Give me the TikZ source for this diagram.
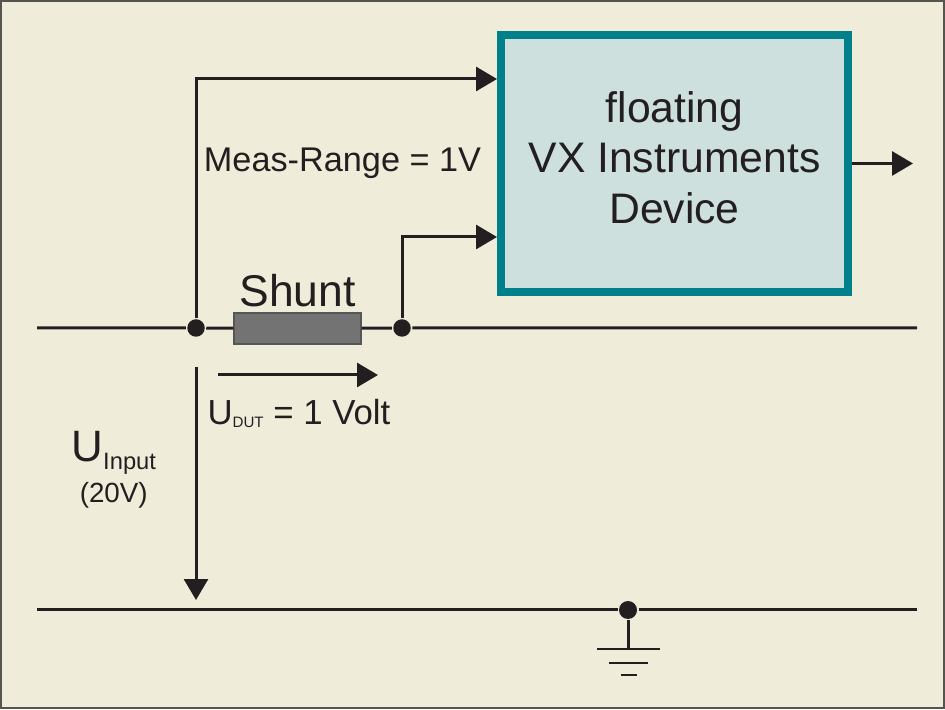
\documentclass[tikz,border=0pt]{standalone}
\usepackage{fontspec}
\setmainfont{Liberation Sans}
\usetikzlibrary{arrows.meta,positioning}

\definecolor{bgcream}{RGB}{239,237,218}
\definecolor{devfill}{RGB}{205,224,222}
\definecolor{devedge}{RGB}{0,128,138}
\definecolor{ink}{RGB}{35,31,32}
\definecolor{shuntgrey}{RGB}{115,115,115}
\definecolor{framegrey}{RGB}{85,85,80}

\begin{document}
\begin{tikzpicture}[x=0.02cm,y=0.02cm,>={Triangle[length=0.42cm,width=0.48cm]},line width=0.06cm,ink,node distance=0.1cm]
  \tikzstyle{dot}=[circle,fill=ink,draw=none,inner sep=0pt,minimum size=0.35cm]
  \tikzstyle{device}=[rectangle,draw=devedge,fill=devfill,line width=0.16cm,minimum width=6.94cm,minimum height=5.14cm,align=center,text=ink,text depth=0.24cm,font=\fontsize{24.3}{29}\selectfont]
  \tikzstyle{shunt}=[rectangle,draw=shuntgrey!75!black,fill=shuntgrey,line width=0.03cm,minimum width=2.54cm,minimum height=0.62cm,inner sep=0pt]
  \tikzstyle{lbl}=[inner sep=0pt,text=ink,font=\fontsize{19.5}{23}\selectfont]

  \useasboundingbox (0,0) rectangle (945,709);
  \fill[bgcream] (0,0) rectangle (945,709);
  \draw[framegrey,line width=0.04cm] (1,1) rectangle (944,708);

  \node[device] (dev) at (674.5,545.5) {floating\\VX Instruments\\Device};
  \node[dot] (j1) at (196,381) {};
  \node[dot] (j2) at (402,381) {};
  \node[shunt] (shunt) at (297.5,380.5) {};
  \node[lbl,font=\fontsize{25.3}{30}\selectfont] (shuntlbl) [above=0.08cm of shunt] {Shunt};
  \node[dot,minimum size=0.36cm] (gnd) at (628,99) {};

  \coordinate (topL) at (37,381);
  \coordinate (topR) at (917,381);
  \coordinate (botL) at (37,99);
  \coordinate (botR) at (917,99);
  \coordinate (in1) at (497,630);
  \coordinate (in2) at (497,472);
  \coordinate (out) at (913,545.5);
  \coordinate (ud1) at (218,334);
  \coordinate (ud2) at (378,334);
  \coordinate (ui1) at (196,342);
  \coordinate (ui2) at (196,109);
  \coordinate (gstem) at (628,60);

  \node[lbl] (range) at (342.5,546) {Meas-Range = 1V};
  \node[lbl,anchor=base west] (udut) at (206,284) {\fontsize{19.8}{23}\selectfont U\raisebox{-1.7pt}{\fontsize{8.6}{10}\selectfont DUT} = 1 Volt};
  \node[lbl,anchor=base west] (uin) at (70,247) {\fontsize{25}{30}\selectfont U\raisebox{-4.5pt}{\fontsize{13.5}{16}\selectfont Input}};
  \node[lbl,font=\fontsize{15.8}{19}\selectfont] (uinval) [below=0.1cm of uin] {(20V)};

  \draw (topL) -- (j1) -- (shunt) -- (j2) -- (topR);
  \draw (botL) -- (gnd) -- (botR);
  \draw[->] (j1) |- (in1);
  \draw[->] (j2) |- (in2);
  \draw[->] (dev) -- (out);
  \draw[->] (ud1) -- (ud2);
  \draw[->] (ui1) -- (ui2);

  % earth
  \draw (gnd) -- (gstem);
  \draw[line width=0.05cm] (gstem) ++(-31,0) -- ++(63,0)
    (gstem) ++(-19,-14) -- ++(39,0)
    (gstem) ++(-7,-26) -- ++(16,0);
\end{tikzpicture}
\end{document}
